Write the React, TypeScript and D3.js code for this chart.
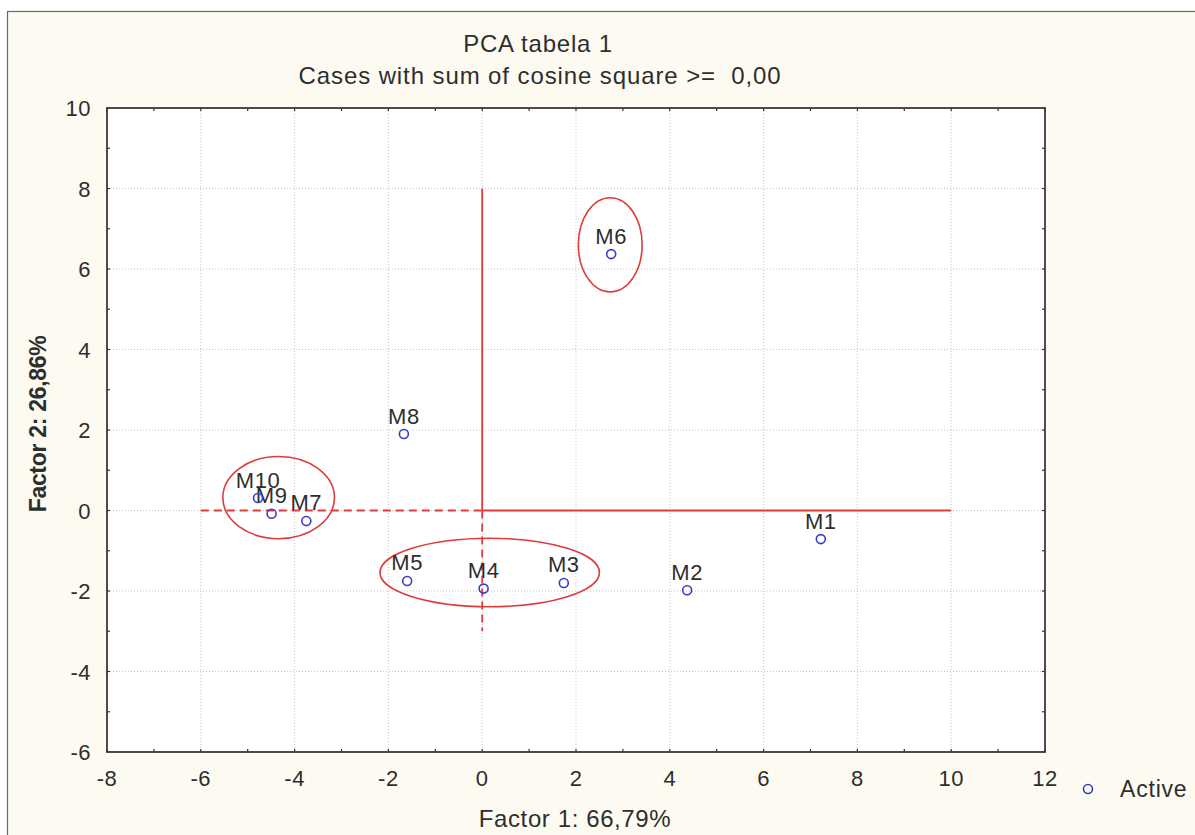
import React from "react";
import * as d3 from "d3";

const title = "PCA tabela 1";
const subtitle = "Cases with sum of cosine square >=\u00a0 0,00";
const xLabel = "Factor 1: 66,79%";
const yLabel = "Factor 2: 26,86%";
const legendLabel = "Active";

const caseNames = ["M1", "M2", "M3", "M4", "M5", "M6", "M7", "M8", "M9", "M10"];
const factor1 = [7.22, 4.37, 1.74, 0.03, -1.6, 2.75, -3.75, -1.67, -4.49, -4.78];
const factor2 = [-0.71, -1.98, -1.8, -1.94, -1.75, 6.37, -0.26, 1.9, -0.08, 0.31];

const xTicks = [-8, -6, -4, -2, 0, 2, 4, 6, 8, 10, 12];
const yTicks = [-6, -4, -2, 0, 2, 4, 6, 8, 10];
const minorX = d3.range(-8, 12.01, 1);
const minorY = d3.range(-6, 10.01, 1);

// annotation ellipses in data units
const ellipseCx = [2.73, -4.34, 0.16];
const ellipseCy = [6.6, 0.32, -1.54];
const ellipseRx = [0.68, 1.19, 2.34];
const ellipseRy = [1.17, 1.02, 0.85];

// annotation axis-lines in data units
const segX1 = [0, 0, 0, -6];
const segY1 = [8, 0, 0, 0];
const segX2 = [0, 0, 10, 0];
const segY2 = [0, -3, 0, 0];
const segDashed = [false, true, false, true];

const W = 1195;
const H = 835;
const L = 107, R = 1045, T = 108, B = 752;

const x = d3.scaleLinear().domain([-8, 12]).range([L, R]);
const y = d3.scaleLinear().domain([-6, 10]).range([B, T]);

const FONT = "'Liberation Sans', Arial, sans-serif";
const RED = "#e03a3a";
const BLUE = "#3a3ad0";
const TXT = "#2e2e2e";

export default function App() {
  const gridX = xTicks.filter((t) => t > -8 && t < 12);
  const gridY = yTicks.filter((t) => t > -6 && t < 10);
  return (
    <svg width={W} height={H} style={{ position: "absolute", left: 0, top: 0 }} fontFamily={FONT}>
      <rect x={0} y={0} width={W} height={H} fill="#ffffff" />
      <rect x={7.5} y={11.5} width={W} height={H} fill="#fdfbf1" stroke="#6a6a6a" strokeWidth={1.2} />
      <rect x={L} y={T} width={R - L} height={B - T} fill="#ffffff" />
      {gridX.map((t) => (
        <line key={"gx" + t} x1={x(t)} x2={x(t)} y1={T} y2={B} stroke="#c4c4c4" strokeWidth={1} strokeDasharray="1,2" />
      ))}
      {gridY.map((t) => (
        <line key={"gy" + t} x1={L} x2={R} y1={y(t)} y2={y(t)} stroke="#c4c4c4" strokeWidth={1} strokeDasharray="1,2" />
      ))}
      {minorX.map((t) => (
        <g key={"mx" + t}>
          <line x1={x(t)} x2={x(t)} y1={B} y2={B - 3} stroke="#333" strokeWidth={1.2} />
          <line x1={x(t)} x2={x(t)} y1={T} y2={T + 3} stroke="#333" strokeWidth={1.2} />
        </g>
      ))}
      {minorY.map((t) => (
        <g key={"my" + t}>
          <line x1={L} x2={L + 3} y1={y(t)} y2={y(t)} stroke="#333" strokeWidth={1.2} />
          <line x1={R} x2={R - 3} y1={y(t)} y2={y(t)} stroke="#333" strokeWidth={1.2} />
        </g>
      ))}
      <rect x={L} y={T} width={R - L} height={B - T} fill="none" stroke="#3a3a3a" strokeWidth={1.8} />

      {segX1.map((_, i) => (
        <line
          key={"seg" + i}
          x1={x(segX1[i])}
          y1={y(segY1[i])}
          x2={x(segX2[i])}
          y2={y(segY2[i])}
          stroke={RED}
          strokeWidth={1.8}
          strokeDasharray={segDashed[i] ? "8,5" : undefined}
        />
      ))}
      {ellipseCx.map((_, i) => (
        <ellipse
          key={"el" + i}
          cx={x(ellipseCx[i])}
          cy={y(ellipseCy[i])}
          rx={x(ellipseRx[i]) - x(0)}
          ry={y(0) - y(ellipseRy[i])}
          fill="none"
          stroke={RED}
          strokeWidth={1.6}
        />
      ))}

      {caseNames.map((n, i) => (
        <g key={n}>
          <circle cx={x(factor1[i])} cy={y(factor2[i])} r={4.5} fill="none" stroke={BLUE} strokeWidth={1.6} />
          <text x={x(factor1[i])} y={y(factor2[i]) - 10.5} textAnchor="middle" fontSize={22} fill={TXT} letterSpacing={0.6}>
            {n}
          </text>
        </g>
      ))}

      {xTicks.map((t) => (
        <text key={"xt" + t} x={x(t)} y={B + 34} textAnchor="middle" fontSize={22} fill={TXT} letterSpacing={0.5}>
          {t}
        </text>
      ))}
      {yTicks.map((t) => (
        <text key={"yt" + t} x={L - 16} y={y(t) + 8} textAnchor="end" fontSize={22} fill={TXT} letterSpacing={0.5}>
          {t}
        </text>
      ))}

      <text x={538} y={52} textAnchor="middle" fontSize={24} fill={TXT} letterSpacing={0.8}>
        {title}
      </text>
      <text x={540} y={84} textAnchor="middle" fontSize={24} fill={TXT} letterSpacing={0.9}>
        {subtitle}
      </text>
      <text x={575} y={827} textAnchor="middle" fontSize={24} fill={TXT} letterSpacing={0.6}>
        {xLabel}
      </text>
      <text
        transform={`translate(46, ${(T + B) / 2 - 6}) rotate(-90)`}
        textAnchor="middle"
        fontSize={23}
        fill={TXT}
        fontWeight="bold"
        letterSpacing={-0.3}
      >
        {yLabel}
      </text>

      <circle cx={1088} cy={789} r={4.5} fill="none" stroke={BLUE} strokeWidth={1.6} />
      <text x={1120} y={797} fontSize={23} fill={TXT} letterSpacing={0.8}>
        {legendLabel}
      </text>
    </svg>
  );
}
